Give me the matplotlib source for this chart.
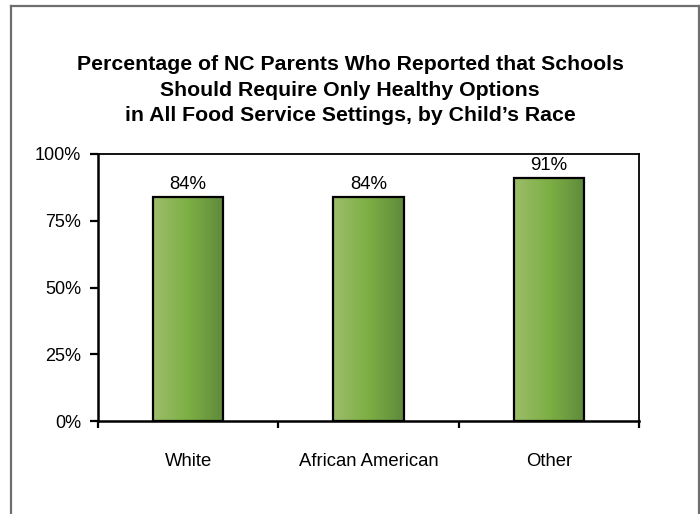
import matplotlib
matplotlib.use("Agg")
import matplotlib.pyplot as plt
import numpy as np
from matplotlib.lines import Line2D
from matplotlib.colors import LinearSegmentedColormap

categories = ["White", "African American", "Other"]
values = [84, 84, 91]
value_labels = ["84%", "84%", "91%"]
yticks = [0, 25, 50, 75, 100]
ytick_labels = ["0%", "25%", "50%", "75%", "100%"]
title = ("Percentage of NC Parents Who Reported that Schools\n"
         "Should Require Only Healthy Options\n"
         "in All Food Service Settings, by Child\u2019s Race")

plt.rcParams['font.family'] = ['Liberation Sans', 'DejaVu Sans']

fig = plt.figure(figsize=(7.0, 5.14), dpi=100)
fig.patch.set_facecolor("white")

# outer frame (open at bottom)
bc = "#6e6e6e"
xl, xr, yt = 11/700, 698.5/700, 1 - 6/514
for xs, ys in [([xl, xl], [0, yt]), ([xl, xr], [yt, yt]), ([xr, xr], [yt, 0])]:
    fig.add_artist(Line2D(xs, ys, transform=fig.transFigure, color=bc, lw=1.6))

fig.text(0.5, 1 - 90/514, title, ha="center", va="center", fontsize=15.3,
         fontweight="bold", linespacing=1.43, color="black")

ax = fig.add_axes([98/700, 1 - 421/514, (639 - 98)/700, (421 - 154)/514])

x = np.arange(len(categories))
width = 0.39
grad = LinearSegmentedColormap.from_list(
    "g", ["#9dbd6a", "#7caf44", "#5f8a3c"])
gimg = np.linspace(0, 1, 256).reshape(1, -1)
bars = ax.bar(x, values, width=width, facecolor="none", edgecolor="black",
              linewidth=1.6, zorder=3)
for b in bars:
    x0, y0 = b.get_x(), b.get_y()
    w, h = b.get_width(), b.get_height()
    ax.imshow(gimg, cmap=grad, aspect="auto", extent=[x0, x0 + w, y0, y0 + h],
              interpolation="bicubic", zorder=2)

for xi, v, lab in zip(x, values, value_labels):
    ax.annotate(lab, (xi, v), xytext=(0, 3), textcoords="offset points",
                ha="center", va="bottom", fontsize=13.4)

ax.set_xlim(-0.5, len(categories) - 0.5)
ax.set_ylim(0, 100)
ax.set_yticks(yticks)
ax.set_yticklabels(ytick_labels, fontsize=13)
ax.set_xticks(x)
ax.set_xticklabels(categories, fontsize=13.3)
ax.set_xticks(np.arange(len(categories) + 1) - 0.5, minor=True)
ax.tick_params(axis="x", which="major", length=0, pad=23)
ax.tick_params(axis="x", which="minor", length=5, width=1.6, direction="out")
ax.tick_params(axis="y", length=6, width=1.6, direction="out", pad=6)
for s in ["left", "bottom"]:
    ax.spines[s].set_linewidth(1.8)
for s in ["top", "right"]:
    ax.spines[s].set_linewidth(1.3)

fig.savefig("out.png", dpi=100, facecolor="white")
